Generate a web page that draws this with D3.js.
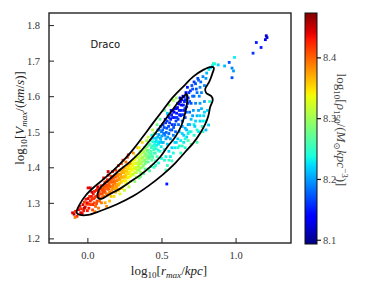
<!DOCTYPE html>
<html>
<head>
<meta charset="utf-8">
<script src="https://cdn.jsdelivr.net/npm/d3@7"></script>
<style>
  html, body { margin: 0; padding: 0; background: #fff; }
  svg { display: block; }
</style>
</head>
<body>
<div id="viz"></div>
<script>
const W = 366;
const H = 292;
const PLOT = { left: 49, right: 291, top: 13, bottom: 243 };
const CBAR = { left: 305, right: 317, top: 13, bottom: 244 };

const X_DOMAIN = [-0.259, 1.374];
const Y_DOMAIN = [1.187, 1.834];
const C_DOMAIN = [8.093, 8.473];

const xTicks = [0.0, 0.5, 1.0];
const yTicks = [1.2, 1.3, 1.4, 1.5, 1.6, 1.7, 1.8];
const cTicks = [8.1, 8.2, 8.3, 8.4];
const galaxyName = 'Draco';

// samples: [log10 rmax, log10 vmax, log10 rho150]
const ptsRed = [
  [-0.10, 1.272, 8.44], [-0.09, 1.268, 8.45], [-0.08, 1.276, 8.43], [-0.07, 1.262, 8.42],
  [-0.06, 1.281, 8.44], [-0.05, 1.290, 8.43], [-0.045, 1.272, 8.45], [-0.04, 1.283, 8.42],
  [-0.03, 1.295, 8.44], [-0.025, 1.278, 8.43], [-0.02, 1.302, 8.42], [-0.015, 1.288, 8.44],
  [-0.01, 1.310, 8.43], [-0.005, 1.296, 8.41], [-0.083, 1.259, 8.39],
  [0.00, 1.300, 8.44], [0.01, 1.285, 8.43], [0.015, 1.318, 8.42], [0.02, 1.342, 8.44],
  [0.025, 1.295, 8.41], [0.03, 1.310, 8.42], [0.035, 1.280, 8.41], [0.04, 1.325, 8.43],
  [0.045, 1.300, 8.41], [0.05, 1.315, 8.42], [0.055, 1.290, 8.40], [0.06, 1.335, 8.43],
  [0.065, 1.305, 8.41], [0.07, 1.322, 8.42], [0.075, 1.285, 8.39], [0.08, 1.330, 8.41],
  [0.085, 1.312, 8.40], [0.09, 1.340, 8.42], [0.095, 1.300, 8.39], [0.10, 1.325, 8.41],
  [0.07, 1.345, 8.44], [0.05, 1.275, 8.39], [0.03, 1.330, 8.45], [0.005, 1.342, 8.44],
  [-0.035, 1.270, 8.44], [-0.02, 1.285, 8.45], [0.00, 1.278, 8.43], [0.005, 1.312, 8.44],
  [0.012, 1.296, 8.42], [0.02, 1.305, 8.43], [0.028, 1.318, 8.43], [0.038, 1.295, 8.42],
  [0.042, 1.312, 8.42], [0.048, 1.332, 8.43], [0.058, 1.318, 8.42], [0.062, 1.298, 8.41],
  [0.068, 1.338, 8.43], [0.078, 1.318, 8.41], [0.082, 1.305, 8.40], [0.088, 1.325, 8.41],
  [0.092, 1.348, 8.42], [0.098, 1.335, 8.41],
];

const ptsOrange = [
  [0.105, 1.340, 8.41], [0.11, 1.318, 8.40], [0.115, 1.352, 8.42], [0.12, 1.330, 8.40],
  [0.125, 1.345, 8.41], [0.13, 1.360, 8.42], [0.135, 1.322, 8.39], [0.14, 1.338, 8.40],
  [0.145, 1.352, 8.40], [0.15, 1.330, 8.39], [0.155, 1.365, 8.41], [0.16, 1.345, 8.40],
  [0.165, 1.335, 8.38], [0.17, 1.358, 8.40], [0.175, 1.370, 8.41], [0.18, 1.342, 8.38],
  [0.185, 1.355, 8.39], [0.19, 1.372, 8.40], [0.195, 1.348, 8.38], [0.20, 1.362, 8.39],
  [0.12, 1.300, 8.37], [0.15, 1.305, 8.36], [0.18, 1.318, 8.35], [0.14, 1.378, 8.44],
  [0.11, 1.370, 8.44], [0.17, 1.388, 8.43], [0.13, 1.290, 8.38], [0.16, 1.375, 8.41],
  [0.19, 1.330, 8.37], [0.115, 1.335, 8.41], [0.145, 1.340, 8.40], [0.175, 1.350, 8.39],
  [0.135, 1.365, 8.42], [0.14, 1.388, 8.44], [0.276, 1.435, 8.42],
  [0.102, 1.315, 8.40], [0.108, 1.330, 8.41], [0.112, 1.345, 8.41], [0.118, 1.358, 8.42],
  [0.122, 1.340, 8.40], [0.128, 1.325, 8.39], [0.132, 1.350, 8.41], [0.138, 1.345, 8.40],
  [0.142, 1.360, 8.41], [0.148, 1.325, 8.38], [0.152, 1.348, 8.40], [0.158, 1.358, 8.40],
  [0.162, 1.368, 8.41], [0.168, 1.345, 8.39], [0.172, 1.340, 8.38], [0.178, 1.362, 8.40],
  [0.182, 1.375, 8.40], [0.188, 1.340, 8.37], [0.192, 1.362, 8.39], [0.198, 1.380, 8.40],
  [0.205, 1.375, 8.39], [0.21, 1.350, 8.37], [0.215, 1.390, 8.39], [0.22, 1.365, 8.37],
  [0.225, 1.380, 8.38], [0.23, 1.358, 8.36], [0.235, 1.395, 8.38], [0.24, 1.372, 8.37],
  [0.245, 1.385, 8.37], [0.25, 1.362, 8.35], [0.255, 1.400, 8.38], [0.26, 1.378, 8.36],
  [0.265, 1.390, 8.36], [0.27, 1.370, 8.34], [0.275, 1.405, 8.37], [0.28, 1.385, 8.35],
  [0.285, 1.395, 8.35], [0.29, 1.375, 8.33], [0.295, 1.410, 8.36], [0.30, 1.392, 8.34],
  [0.21, 1.405, 8.42], [0.24, 1.420, 8.42], [0.27, 1.428, 8.41], [0.22, 1.325, 8.33],
  [0.25, 1.335, 8.32], [0.28, 1.345, 8.31], [0.23, 1.340, 8.35], [0.26, 1.352, 8.34],
  [0.29, 1.360, 8.33], [0.215, 1.370, 8.38], [0.245, 1.400, 8.39], [0.275, 1.382, 8.36],
  [0.255, 1.372, 8.36], [0.285, 1.410, 8.37], [0.20, 1.342, 8.37],
  [0.202, 1.352, 8.37], [0.208, 1.365, 8.38], [0.212, 1.380, 8.38], [0.218, 1.355, 8.36],
  [0.222, 1.392, 8.38], [0.228, 1.372, 8.37], [0.232, 1.385, 8.37], [0.238, 1.362, 8.35],
  [0.242, 1.392, 8.37], [0.248, 1.375, 8.36], [0.252, 1.388, 8.36], [0.258, 1.362, 8.34],
  [0.262, 1.398, 8.36], [0.268, 1.382, 8.35], [0.272, 1.395, 8.35], [0.278, 1.372, 8.34],
  [0.282, 1.402, 8.35], [0.288, 1.385, 8.34], [0.292, 1.398, 8.34], [0.298, 1.378, 8.33],
  [0.23, 1.410, 8.40], [0.26, 1.415, 8.39], [0.19, 1.392, 8.42], [0.16, 1.318, 8.36],
  [0.21, 1.335, 8.35], [0.24, 1.345, 8.34], [0.27, 1.355, 8.33],
];

const ptsGreen = [
  [0.305, 1.405, 8.34], [0.31, 1.380, 8.32], [0.315, 1.420, 8.34], [0.32, 1.395, 8.33],
  [0.325, 1.410, 8.33], [0.33, 1.385, 8.31], [0.335, 1.428, 8.33], [0.34, 1.400, 8.32],
  [0.345, 1.415, 8.32], [0.35, 1.392, 8.30], [0.355, 1.435, 8.32], [0.36, 1.410, 8.31],
  [0.365, 1.425, 8.31], [0.37, 1.400, 8.29], [0.375, 1.442, 8.31], [0.38, 1.418, 8.30],
  [0.385, 1.432, 8.30], [0.39, 1.410, 8.28], [0.395, 1.450, 8.30], [0.40, 1.425, 8.29],
  [0.31, 1.440, 8.38], [0.34, 1.455, 8.36], [0.37, 1.470, 8.35], [0.32, 1.360, 8.29],
  [0.35, 1.370, 8.28], [0.38, 1.382, 8.27], [0.33, 1.372, 8.30], [0.36, 1.385, 8.29],
  [0.39, 1.395, 8.27], [0.315, 1.398, 8.33], [0.345, 1.405, 8.31], [0.375, 1.428, 8.31],
  [0.385, 1.455, 8.29], [0.355, 1.445, 8.30], [0.325, 1.432, 8.32], [0.395, 1.435, 8.29],
  [0.302, 1.418, 8.34], [0.308, 1.395, 8.33], [0.312, 1.410, 8.33], [0.318, 1.385, 8.32],
  [0.322, 1.422, 8.33], [0.328, 1.400, 8.32], [0.332, 1.412, 8.32], [0.338, 1.392, 8.31],
  [0.342, 1.428, 8.32], [0.348, 1.408, 8.31], [0.352, 1.420, 8.31], [0.358, 1.398, 8.30],
  [0.362, 1.438, 8.31], [0.368, 1.415, 8.30], [0.372, 1.428, 8.30], [0.378, 1.405, 8.29],
  [0.382, 1.445, 8.30], [0.388, 1.420, 8.29], [0.392, 1.438, 8.29], [0.398, 1.415, 8.28],
  [0.405, 1.445, 8.28], [0.41, 1.415, 8.27], [0.415, 1.462, 8.27], [0.42, 1.430, 8.27],
  [0.425, 1.475, 8.24], [0.43, 1.445, 8.26], [0.435, 1.420, 8.27], [0.44, 1.460, 8.25],
  [0.445, 1.482, 8.22], [0.45, 1.440, 8.26], [0.455, 1.470, 8.23], [0.46, 1.495, 8.20],
  [0.465, 1.452, 8.24], [0.47, 1.430, 8.26], [0.475, 1.485, 8.21], [0.48, 1.465, 8.23],
  [0.485, 1.505, 8.18], [0.49, 1.445, 8.25], [0.495, 1.478, 8.22], [0.50, 1.500, 8.19],
  [0.41, 1.485, 8.32], [0.44, 1.505, 8.31], [0.47, 1.520, 8.28], [0.49, 1.535, 8.27],
  [0.42, 1.390, 8.26], [0.45, 1.400, 8.25], [0.48, 1.412, 8.24], [0.43, 1.402, 8.25],
  [0.46, 1.418, 8.25], [0.50, 1.425, 8.24], [0.415, 1.440, 8.27], [0.455, 1.455, 8.25],
  [0.475, 1.505, 8.20], [0.435, 1.490, 8.23], [0.465, 1.475, 8.22], [0.495, 1.515, 8.18],
  [0.44, 1.428, 8.26],
  [0.402, 1.458, 8.28], [0.408, 1.432, 8.27], [0.412, 1.448, 8.27], [0.418, 1.425, 8.27],
  [0.422, 1.465, 8.26], [0.428, 1.438, 8.26], [0.432, 1.455, 8.25], [0.438, 1.432, 8.26],
  [0.442, 1.472, 8.24], [0.448, 1.450, 8.25], [0.452, 1.462, 8.24], [0.458, 1.440, 8.25],
  [0.462, 1.482, 8.22], [0.468, 1.462, 8.23], [0.472, 1.472, 8.23], [0.478, 1.448, 8.24],
  [0.482, 1.492, 8.20], [0.488, 1.470, 8.22], [0.492, 1.482, 8.21], [0.498, 1.458, 8.23],
  [0.35, 1.455, 8.34], [0.40, 1.475, 8.31], [0.45, 1.495, 8.28], [0.36, 1.375, 8.28],
  [0.41, 1.395, 8.27], [0.46, 1.405, 8.25],
];

const ptsBlue = [
  [0.505, 1.470, 8.21], [0.51, 1.520, 8.16], [0.515, 1.495, 8.18], [0.52, 1.450, 8.23],
  [0.525, 1.535, 8.16], [0.53, 1.480, 8.20], [0.535, 1.510, 8.17], [0.54, 1.465, 8.22],
  [0.545, 1.548, 8.15], [0.55, 1.495, 8.18], [0.555, 1.525, 8.16], [0.56, 1.480, 8.20],
  [0.565, 1.560, 8.15], [0.57, 1.505, 8.17], [0.575, 1.540, 8.15], [0.58, 1.490, 8.19],
  [0.585, 1.555, 8.14], [0.59, 1.520, 8.17], [0.595, 1.500, 8.18], [0.60, 1.565, 8.14],
  [0.52, 1.420, 8.24], [0.54, 1.405, 8.25], [0.56, 1.430, 8.23], [0.58, 1.440, 8.24],
  [0.55, 1.445, 8.22], [0.59, 1.455, 8.23], [0.53, 1.392, 8.26], [0.57, 1.418, 8.25],
  [0.60, 1.470, 8.22], [0.52, 1.560, 8.27], [0.55, 1.575, 8.29], [0.58, 1.588, 8.30],
  [0.54, 1.552, 8.22],
  [0.502, 1.488, 8.20], [0.508, 1.505, 8.18], [0.512, 1.470, 8.21], [0.518, 1.512, 8.17],
  [0.522, 1.490, 8.19], [0.528, 1.525, 8.16], [0.532, 1.498, 8.18], [0.538, 1.530, 8.16],
  [0.542, 1.485, 8.20], [0.548, 1.515, 8.17], [0.552, 1.540, 8.15], [0.558, 1.505, 8.18],
  [0.562, 1.535, 8.15], [0.568, 1.548, 8.15], [0.572, 1.520, 8.16], [0.578, 1.558, 8.14],
  [0.582, 1.512, 8.17], [0.588, 1.540, 8.15], [0.592, 1.565, 8.14], [0.598, 1.530, 8.16],
  [0.605, 1.540, 8.16], [0.61, 1.580, 8.14], [0.615, 1.520, 8.18], [0.62, 1.560, 8.15],
  [0.625, 1.595, 8.13], [0.63, 1.545, 8.16], [0.635, 1.575, 8.14], [0.64, 1.530, 8.18],
  [0.645, 1.600, 8.14], [0.65, 1.560, 8.15], [0.655, 1.585, 8.15], [0.66, 1.540, 8.17],
  [0.665, 1.610, 8.14], [0.67, 1.570, 8.16], [0.675, 1.625, 8.15], [0.68, 1.595, 8.15],
  [0.69, 1.555, 8.18], [0.695, 1.615, 8.16], [0.70, 1.580, 8.17],
  [0.602, 1.552, 8.15], [0.608, 1.568, 8.14], [0.612, 1.535, 8.16], [0.618, 1.578, 8.14],
  [0.622, 1.548, 8.15], [0.628, 1.585, 8.14], [0.632, 1.560, 8.15], [0.638, 1.590, 8.14],
  [0.642, 1.548, 8.16], [0.648, 1.575, 8.15], [0.652, 1.598, 8.15], [0.658, 1.565, 8.16],
  [0.662, 1.590, 8.15], [0.668, 1.555, 8.17], [0.672, 1.600, 8.16], [0.678, 1.580, 8.16],
  [0.685, 1.610, 8.16], [0.69, 1.585, 8.17], [0.71, 1.620, 8.17], [0.72, 1.600, 8.18],
  [0.73, 1.635, 8.17], [0.74, 1.610, 8.18], [0.75, 1.645, 8.18], [0.76, 1.625, 8.19],
  [0.61, 1.480, 8.22], [0.62, 1.460, 8.24], [0.64, 1.495, 8.22], [0.65, 1.470, 8.23],
  [0.66, 1.510, 8.21], [0.67, 1.485, 8.22], [0.68, 1.520, 8.20], [0.69, 1.500, 8.23],
  [0.70, 1.535, 8.21], [0.63, 1.440, 8.25], [0.66, 1.455, 8.24], [0.68, 1.475, 8.26],
  [0.64, 1.515, 8.20], [0.60, 1.595, 8.30],
  [0.53, 1.430, 8.24], [0.55, 1.420, 8.25], [0.57, 1.455, 8.22], [0.59, 1.470, 8.22],
  [0.61, 1.455, 8.24], [0.63, 1.475, 8.23], [0.65, 1.490, 8.22], [0.67, 1.505, 8.21],
  [0.69, 1.520, 8.21], [0.71, 1.545, 8.20], [0.73, 1.530, 8.22], [0.75, 1.560, 8.20],
  [0.62, 1.500, 8.21], [0.64, 1.460, 8.25], [0.66, 1.480, 8.24], [0.68, 1.495, 8.23],
  [0.70, 1.500, 8.24], [0.72, 1.520, 8.23], [0.74, 1.505, 8.24], [0.76, 1.545, 8.22],
  [0.78, 1.530, 8.23], [0.79, 1.555, 8.22], [0.76, 1.580, 8.20], [0.77, 1.610, 8.19],
  [0.79, 1.630, 8.19], [0.80, 1.650, 8.20],
  [0.705, 1.630, 8.17], [0.71, 1.600, 8.18], [0.715, 1.560, 8.20], [0.72, 1.640, 8.16],
  [0.725, 1.515, 8.22], [0.73, 1.580, 8.19], [0.735, 1.620, 8.17], [0.74, 1.545, 8.21],
  [0.745, 1.650, 8.17], [0.75, 1.500, 8.23], [0.755, 1.600, 8.19], [0.76, 1.530, 8.22],
  [0.765, 1.640, 8.18], [0.77, 1.565, 8.21], [0.775, 1.515, 8.24], [0.78, 1.655, 8.19],
  [0.785, 1.545, 8.22], [0.79, 1.585, 8.20], [0.80, 1.530, 8.23], [0.805, 1.665, 8.21],
  [0.81, 1.560, 8.22], [0.82, 1.675, 8.23], [0.825, 1.585, 8.24], [0.83, 1.680, 8.22],
  [0.72, 1.490, 8.24], [0.74, 1.470, 8.26], [0.70, 1.465, 8.27], [0.78, 1.500, 8.25],
  [0.845, 1.686, 8.23], [0.85, 1.692, 8.25], [0.818, 1.519, 8.22], [0.80, 1.505, 8.21],
];

const ptsTail = [
  [1.207, 1.770, 8.12], [1.212, 1.765, 8.12], [1.201, 1.759, 8.13], [1.140, 1.751, 8.15],
  [1.172, 1.737, 8.15], [1.118, 1.721, 8.16], [0.993, 1.709, 8.23], [0.957, 1.695, 8.17],
  [0.976, 1.679, 8.19], [0.986, 1.671, 8.20], [0.976, 1.652, 8.17], [0.926, 1.685, 8.21],
  [0.883, 1.688, 8.22], [0.859, 1.691, 8.24], [0.536, 1.353, 8.15],
];

// density contours: [log10 rmax, log10 vmax]
const outerContour = [
  [-0.072, 1.277], [-0.050, 1.297], [-0.009, 1.322], [0.052, 1.347], [0.119, 1.370],
  [0.207, 1.404], [0.288, 1.440], [0.369, 1.483], [0.444, 1.525], [0.512, 1.562],
  [0.579, 1.598], [0.647, 1.627], [0.714, 1.655], [0.782, 1.674], [0.829, 1.682],
  [0.853, 1.680], [0.843, 1.663], [0.822, 1.640], [0.795, 1.620], [0.802, 1.609],
  [0.836, 1.600], [0.846, 1.589], [0.829, 1.570], [0.816, 1.544], [0.796, 1.522],
  [0.761, 1.496], [0.714, 1.468], [0.660, 1.443], [0.593, 1.412], [0.505, 1.378],
  [0.410, 1.347], [0.309, 1.319], [0.200, 1.296], [0.086, 1.277], [0.005, 1.266],
  [-0.049, 1.266], [-0.070, 1.271],
];

const innerContour = [
  [0.069, 1.325], [0.086, 1.342], [0.133, 1.360], [0.221, 1.393], [0.289, 1.416],
  [0.356, 1.443], [0.424, 1.477], [0.491, 1.514], [0.559, 1.553], [0.626, 1.590],
  [0.653, 1.601], [0.670, 1.606], [0.674, 1.590], [0.660, 1.553], [0.636, 1.519],
  [0.593, 1.485], [0.539, 1.457], [0.491, 1.429], [0.424, 1.401], [0.356, 1.378],
  [0.289, 1.359], [0.221, 1.340], [0.153, 1.325], [0.093, 1.311], [0.072, 1.314],
];

// matplotlib 'jet'
const jetR = d3.scaleLinear().domain([0, 0.35, 0.66, 0.89, 1]).range([0, 0, 1, 1, 0.5]).clamp(true);
const jetG = d3.scaleLinear().domain([0, 0.125, 0.375, 0.64, 0.91, 1]).range([0, 0, 1, 1, 0, 0]).clamp(true);
const jetB = d3.scaleLinear().domain([0, 0.11, 0.34, 0.65, 1]).range([0.5, 1, 1, 0, 0]).clamp(true);
function jet(t) {
  return d3.rgb(jetR(t) * 255, jetG(t) * 255, jetB(t) * 255).formatHex();
}

const SERIF = "'Liberation Serif', 'DejaVu Serif', serif";

// mathtext-ish label: parts = [text, style], style '', 'i', 'sub', 'isub', 'sup'
function mathLabel(sel, parts, size) {
  let shift = 0;
  parts.forEach(([t, st]) => {
    st = st || '';
    const small = st === 'sub' || st === 'isub' || st === 'sup';
    const target = st === 'sup' ? -0.42 * size : (small ? 0.22 * size : 0);
    sel.append('tspan')
      .attr('dy', target - shift)
      .attr('font-size', small ? size * 0.7 : size)
      .attr('font-style', st === 'i' || st === 'isub' ? 'italic' : 'normal')
      .text(t);
    shift = target;
  });
}

function main() {
  const svg = d3.select('#viz').append('svg')
    .attr('width', W).attr('height', H)
    .attr('viewBox', `0 0 ${W} ${H}`);

  const x = d3.scaleLinear().domain(X_DOMAIN).range([PLOT.left, PLOT.right]);
  const y = d3.scaleLinear().domain(Y_DOMAIN).range([PLOT.bottom, PLOT.top]);
  const cNorm = d3.scaleLinear().domain(C_DOMAIN).range([0, 1]).clamp(true);
  const color = (v) => jet(cNorm(v));

  const pts = [...ptsRed, ...ptsOrange, ...ptsGreen, ...ptsBlue, ...ptsTail];

  const plot = svg.append('g');

  plot.selectAll('rect.pt')
    .data(pts)
    .join('rect')
    .attr('class', 'pt')
    .attr('x', (d) => x(d[0]) - 1.4)
    .attr('y', (d) => y(d[1]) - 1.4)
    .attr('width', 2.8)
    .attr('height', 2.8)
    .attr('fill', (d) => color(d[2]));

  const line = d3.line().x((d) => x(d[0])).y((d) => y(d[1])).curve(d3.curveCatmullRomClosed.alpha(0.5));
  plot.selectAll('path.contour')
    .data([outerContour, innerContour])
    .join('path')
    .attr('class', 'contour')
    .attr('d', line)
    .attr('fill', 'none')
    .attr('stroke', '#000')
    .attr('stroke-width', 1.8);

  // axes, ticks pointing in
  const xAxis = d3.axisBottom(x).tickValues(xTicks).tickFormat(d3.format('.1f'))
    .tickSizeInner(-5).tickSizeOuter(0).tickPadding(9);
  const yAxis = d3.axisLeft(y).tickValues(yTicks).tickFormat(d3.format('.1f'))
    .tickSizeInner(-5).tickSizeOuter(0).tickPadding(9);

  const gx = svg.append('g').attr('transform', `translate(0,${PLOT.bottom})`).call(xAxis);
  const gy = svg.append('g').attr('transform', `translate(${PLOT.left},0)`).call(yAxis);
  [gx, gy].forEach((g) => {
    g.select('.domain').remove();
    g.selectAll('line').attr('stroke', '#222').attr('stroke-width', 1);
    g.selectAll('text').attr('font-family', SERIF).attr('font-size', 10.5).attr('fill', '#333');
  });

  svg.append('rect')
    .attr('x', PLOT.left).attr('y', PLOT.top)
    .attr('width', PLOT.right - PLOT.left).attr('height', PLOT.bottom - PLOT.top)
    .attr('fill', 'none').attr('stroke', '#222').attr('stroke-width', 1.4);

  svg.append('text')
    .attr('x', 90.5).attr('y', 47.5)
    .attr('font-family', "'DejaVu Sans', sans-serif")
    .attr('font-size', 10)
    .attr('fill', '#111')
    .text(galaxyName);

  // axis labels
  const xl = svg.append('text')
    .attr('x', 169).attr('y', 275)
    .attr('text-anchor', 'middle')
    .attr('font-family', SERIF).attr('fill', '#222');
  mathLabel(xl, [['log'], ['10', 'sub'], ['['], ['r', 'i'], ['max', 'isub'], ['/'], ['kpc', 'i'], [']']], 13);

  const yl = svg.append('text')
    .attr('transform', 'translate(24,118) rotate(-90)')
    .attr('text-anchor', 'middle')
    .attr('font-family', SERIF).attr('fill', '#222');
  mathLabel(yl, [['log'], ['10', 'sub'], ['['], ['V', 'i'], ['max', 'isub'], ['/('], ['km', 'i'], ['/'], ['s', 'i'], [')]']], 13);

  // colorbar
  const cy = d3.scaleLinear().domain(C_DOMAIN).range([CBAR.bottom, CBAR.top]);
  const grad = svg.append('defs').append('linearGradient')
    .attr('id', 'jetgrad').attr('x1', 0).attr('y1', 1).attr('x2', 0).attr('y2', 0);
  grad.selectAll('stop')
    .data(d3.range(0, 1.0001, 0.02))
    .join('stop')
    .attr('offset', (d) => d)
    .attr('stop-color', (d) => jet(d));
  svg.append('rect')
    .attr('x', CBAR.left).attr('y', CBAR.top)
    .attr('width', CBAR.right - CBAR.left).attr('height', CBAR.bottom - CBAR.top)
    .attr('fill', 'url(#jetgrad)')
    .attr('stroke', '#111').attr('stroke-width', 1);

  const cAxis = d3.axisRight(cy).tickValues(cTicks).tickFormat(d3.format('.1f'))
    .tickSizeInner(4).tickSizeOuter(0).tickPadding(2);
  const gc = svg.append('g').attr('transform', `translate(${CBAR.right},0)`).call(cAxis);
  gc.select('.domain').remove();
  gc.selectAll('line').attr('stroke', '#111').attr('stroke-width', 1.2);
  gc.selectAll('text').attr('font-family', SERIF).attr('font-size', 10.5).attr('fill', '#444');

  const cl = svg.append('text')
    .attr('transform', 'translate(337,130) rotate(90)')
    .attr('text-anchor', 'middle')
    .attr('font-family', SERIF).attr('fill', '#444');
  mathLabel(cl, [['log'], ['10', 'sub'], ['['], ['ρ', 'i'], ['150', 'sub'], ['/('], ['M', 'i'], ['⊙', 'sub'], ['kpc', 'i'], ['−3', 'sup'], [')]']], 13);
}

main();
</script>
</body>
</html>
